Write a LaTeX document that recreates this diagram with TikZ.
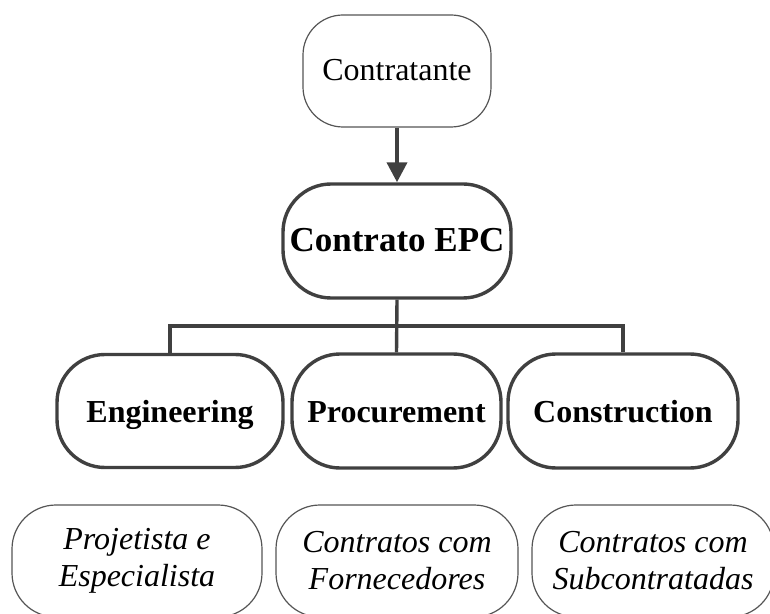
\documentclass[tikz,border=0pt]{standalone}
\usepackage{fontspec}
\setmainfont{Liberation Serif}
\usetikzlibrary{arrows.meta,positioning}
\definecolor{ink}{HTML}{404040}
\definecolor{rim}{HTML}{555555}
\newcommand{\boxfont}{\fontsize{16}{18.5}\selectfont}

\begin{document}
\begin{tikzpicture}[x=0.5pt,y=-0.5pt,
  party/.style={draw=rim,line width=0.6pt,rounded corners=20pt,align=center,inner sep=0pt,font=\boxfont},
  phase/.style={draw=ink,line width=1.7pt,rounded corners=24pt,align=center,inner sep=0pt,text height=14pt,text depth=3pt,font=\boxfont\bfseries},
  contract/.style={party,rounded corners=22pt,font=\boxfont\itshape}]
\useasboundingbox (0,0) rectangle (770,614);
\clip (0,0) rectangle (770,614);
% top of the chain
\node[party,minimum width=94pt,minimum height=56pt,text height=13pt,text depth=3pt] (cli) at (397,71) {Contratante};
\node[phase,minimum width=114pt,minimum height=57pt,font=\fontsize{17.5}{21}\selectfont\bfseries] (epc) at (397,241) {Contrato EPC};
\draw[ink,line width=2pt,-{Triangle[length=10pt,width=10pt]}] (cli) -- (epc);
% the three phases
\node[phase,minimum width=113pt,minimum height=56.5pt] (eng) at (170,411) {Engineering};
\node[phase,minimum width=104.5pt,minimum height=57pt] (proc) at (396.5,411) {Procurement};
\node[phase,minimum width=115pt,minimum height=57pt] (cons) at (623,411) {Construction};
\coordinate (bus) at (397,326);
\draw[ink,line width=1.7pt] (epc.south) -- (proc.north);
\draw[ink,line width=1.7pt] (eng.north) |- (bus) -| (cons.north);
% who does the work
\node[contract,minimum width=125pt,minimum height=56pt] (proj) at (137,561) {Projetista e\\Especialista};
\node[contract,minimum width=121pt,minimum height=56pt] (forn) at (397,561) {Contratos com\\Fornecedores};
\node[contract,minimum width=121pt,minimum height=56pt] (sub) at (653,561) {Contratos com\\Subcontratadas};
\end{tikzpicture}
\end{document}
